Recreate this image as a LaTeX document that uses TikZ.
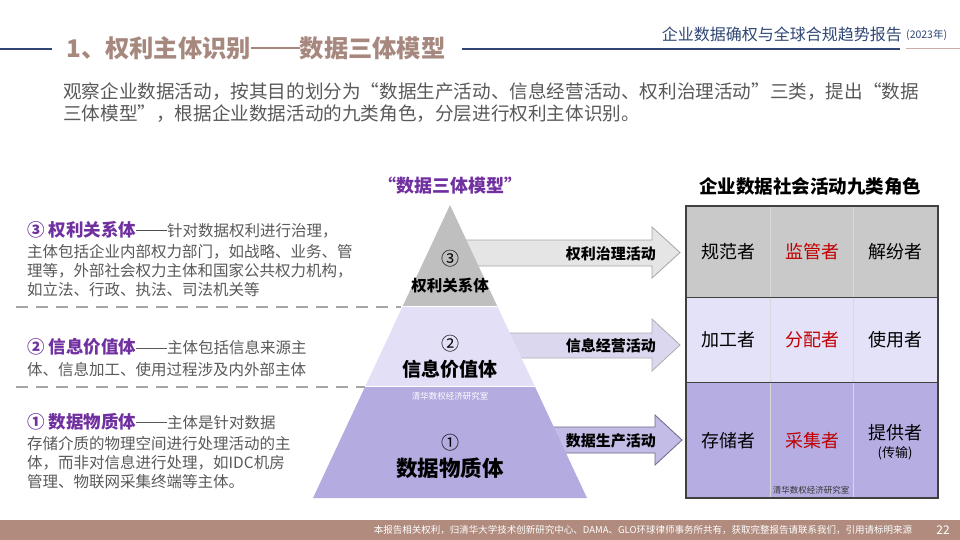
\documentclass[tikz,border=0pt]{standalone}
\usepackage{fontspec}
\setmainfont{Noto Sans CJK SC}
\usetikzlibrary{calc}
\definecolor{titlebrown}{HTML}{A7887E}
\definecolor{footbrown}{HTML}{B08B7E}
\definecolor{headblue}{HTML}{2F4674}
\definecolor{txtgray}{HTML}{595959}
\definecolor{purp}{HTML}{7030A0}
\definecolor{rolered}{HTML}{C00000}
\definecolor{pyrtop}{HTML}{BFBFBF}
\definecolor{pyrmid}{HTML}{E2DFF7}
\definecolor{pyrbot}{HTML}{B4ABE0}
\definecolor{tabtop}{HTML}{C9C9C9}
\definecolor{tabmid}{HTML}{E4E2F8}
\definecolor{tabbot}{HTML}{B6AEE2}
\definecolor{arrowmid}{HTML}{DAD7EE}
\newcommand{\longdash}[1]{\rule[0.32em]{2em}{#1}}
\tikzset{
  bodytext/.style={inner sep=0, anchor=west, align=left, text=txtgray, font=\fontsize{15.5}{19}\selectfont},
  rolecell/.style={inner sep=0, font=\fontsize{18}{20}\selectfont},
  actlabel/.style={inner sep=0, anchor=east, font=\bfseries\fontsize{15}{16}\selectfont},
  layerline/.style={draw=black!35, line width=2.5pt, dash pattern=on 12pt off 8pt},
  stamp/.style={inner sep=0, font=\fontsize{8.5}{9}\selectfont}
}
\begin{document}
\begin{tikzpicture}[x=1pt, y=-1pt]
			%%%%% START %%%%%
			\useasboundingbox (0, 0) rectangle (960, 540);
			
			% header
			\draw[headblue, line width=1.2pt] (0, 49) -- (52, 49);
			\draw[headblue, line width=1.2pt] (462, 49) -- (900, 49);
			\draw[footbrown!70, line width=1pt] (906, 49) -- (960, 49);
			\node[inner sep=0, anchor=west, text=titlebrown, font=\bfseries\fontsize{24.3}{27}\selectfont] (title) at (66, 48) {1、权利主体识别\longdash{2.6pt}数据三体模型};
			\node[inner sep=0, anchor=east, text=headblue, font=\fontsize{16}{18}\selectfont] (report) at (902, 34) {企业数据确权与全球合规趋势报告};
			\node[inner sep=0, anchor=west, text=headblue, font=\fontsize{10.5}{12}\selectfont] (year) at (906, 35) {(2023年)};
			
			\node[inner sep=0, anchor=north west, align=left, text=txtgray, font=\fontsize{18.6}{22}\selectfont] (intro) at (63, 82)
			  {观察企业数据活动，按其目的划分为“数据生产活动、信息经营活动、权利治理活动”三类，提出“数据\\三体模型”，根据企业数据活动的九类角色，分层进行权利主体识别。};
			
			% headings
			\node[inner sep=0, text=purp, font=\bfseries\fontsize{18}{20}\selectfont] (modelhead) at (450, 186) {“数据三体模型”};
			\node[inner sep=0, text=black, font=\bfseries\fontsize{18.5}{20}\selectfont] (rolehead) at (810, 186) {企业数据社会活动九类角色};
			
			% arrows
			\draw[fill=black!10, draw=black!35, line width=0.8pt] (450, 240) -- (652, 240) -- (652, 227) -- (680, 252.5) -- (652, 278) -- (652, 266) -- (450, 266) -- cycle;
			\draw[fill=arrowmid, draw=black!32, line width=0.8pt] (470, 333) -- (652, 333) -- (652, 319) -- (680, 345) -- (652, 371) -- (652, 358) -- (470, 358) -- cycle;
			\draw[fill=pyrbot!80!white, draw=pyrbot!60!black, line width=0.8pt] (520, 427) -- (655, 427) -- (655, 415) -- (682, 440) -- (655, 465) -- (655, 453) -- (520, 453) -- cycle;
			\node[actlabel] (govern) at (656, 254) {权利治理活动};
			\node[actlabel] (operate) at (656, 346) {信息经营活动};
			\node[actlabel] (produce) at (656, 441) {数据生产活动};
			
			% pyramid
			\fill[pyrbot] (365.4, 386) -- (534.6, 386) -- (587, 498) -- (313, 498) -- cycle;
			\fill[pyrmid] (402.8, 306) -- (497.2, 306) -- (534.6, 386) -- (365.4, 386) -- cycle;
			\fill[pyrtop] (450, 205) -- (497.2, 306) -- (402.8, 306) -- cycle;
			\draw[white, line width=0.8pt] (402.8, 306) -- (497.2, 306);
			\draw[white, line width=0.8pt] (365.4, 386) -- (534.6, 386);
			\node[inner sep=0, font=\fontsize{18}{20}\selectfont] (n3) at (450, 259) {③};
			\node[inner sep=0, font=\bfseries\fontsize{15.5}{17}\selectfont] (l3) at (450, 286) {权利关系体};
			\node[inner sep=0, font=\fontsize{18}{20}\selectfont] (n2) at (450, 344) {②};
			\node[inner sep=0, font=\bfseries\fontsize{19}{21}\selectfont] (l2) at (450, 369) {信息价值体};
			\node[inner sep=0, font=\fontsize{18}{20}\selectfont] (n1) at (450, 443) {①};
			\node[inner sep=0, font=\bfseries\fontsize{21.5}{23}\selectfont] (l1) at (450, 468) {数据物质体};
			\node[stamp, text=white] (stamp1) at (450, 396) {清华数权经济研究室};
			
			% layer separators
			\draw[layerline] (16, 307) -- (401, 307);
			\draw[layerline] (16, 387) -- (365, 387);
			
			% left descriptions
			\node[bodytext] (d3) at (27, 259)
			  {{\fontsize{17.5}{19}\selectfont\bfseries\color{purp}③ 权利关系体}{\color{black!70}\longdash{1.6pt}}针对数据权利进行治理，\\[2pt]
			   主体包括企业内部权力部门，如战略、业务、管\\
			   理等，外部社会权力主体和国家公共权力机构，\\
			   如立法、行政、执法、司法机关等};
			\node[bodytext] (d2) at (27, 358)
			  {{\fontsize{17.5}{19}\selectfont\bfseries\color{purp}② 信息价值体}\longdash{1pt}主体包括信息来源主\\[3pt]
			   体、信息加工、使用过程涉及内外部主体};
			\node[bodytext] (d1) at (27, 451)
			  {{\fontsize{17.5}{19}\selectfont\bfseries\color{purp}① 数据物质体}\longdash{1pt}主体是针对数据\\[2pt]
			   存储介质的物理空间进行处理活动的主\\
			   体，而非对信息进行处理，如IDC机房\\
			   管理、物联网采集终端等主体。};
			
			% role table
			\fill[tabtop] (686, 206) rectangle (938, 297);
			\fill[tabmid] (686, 297) rectangle (938, 382);
			\fill[tabbot] (686, 382) rectangle (938, 498);
			\draw[black!15, line width=0.6pt] (770, 206) -- (770, 498);
			\draw[black!15, line width=0.6pt] (853, 206) -- (853, 498);
			\draw[black!75, line width=1pt] (686, 297) -- (938, 297);
			\draw[black!75, line width=1pt] (686, 382) -- (938, 382);
			\draw[black!75, line width=1.2pt] (686, 206) rectangle (938, 498);
			
			\node[rolecell] (normer) at (728, 252) {规范者};
			\node[rolecell, text=rolered] (regulator) at (812, 252) {监管者};
			\node[rolecell] (resolver) at (895, 252) {解纷者};
			\node[rolecell] (processor) at (728, 340) {加工者};
			\node[rolecell, text=rolered] (distributor) at (812, 340) {分配者};
			\node[rolecell] (user) at (895, 340) {使用者};
			\node[rolecell] (storer) at (728, 441) {存储者};
			\node[rolecell, text=rolered] (collector) at (812, 441) {采集者};
			\node[rolecell] (provider) at (895, 433) {提供者};
			\node[inner sep=0, font=\fontsize{13}{14}\selectfont] (transfer) at (895, 453) {(传输)};
			\node[stamp, text=black!80] (stamp2) at (811, 490) {清华数权经济研究室};
			
			% footer
			\fill[footbrown] (0, 520) rectangle (960, 540);
			\node[inner sep=0, text=white, font=\fontsize{9.5}{10}\selectfont] (rights) at (643, 530)
			  {本报告相关权利，归清华大学技术创新研究中心、DAMA、GLO环球律师事务所共有，获取完整报告请联系我们，引用请标明来源};
			\node[inner sep=0, text=white, font=\fontsize{12}{13}\selectfont] (page) at (943, 530) {22};
			
			%%%%% END %%%%%
\end{tikzpicture}
\end{document}
